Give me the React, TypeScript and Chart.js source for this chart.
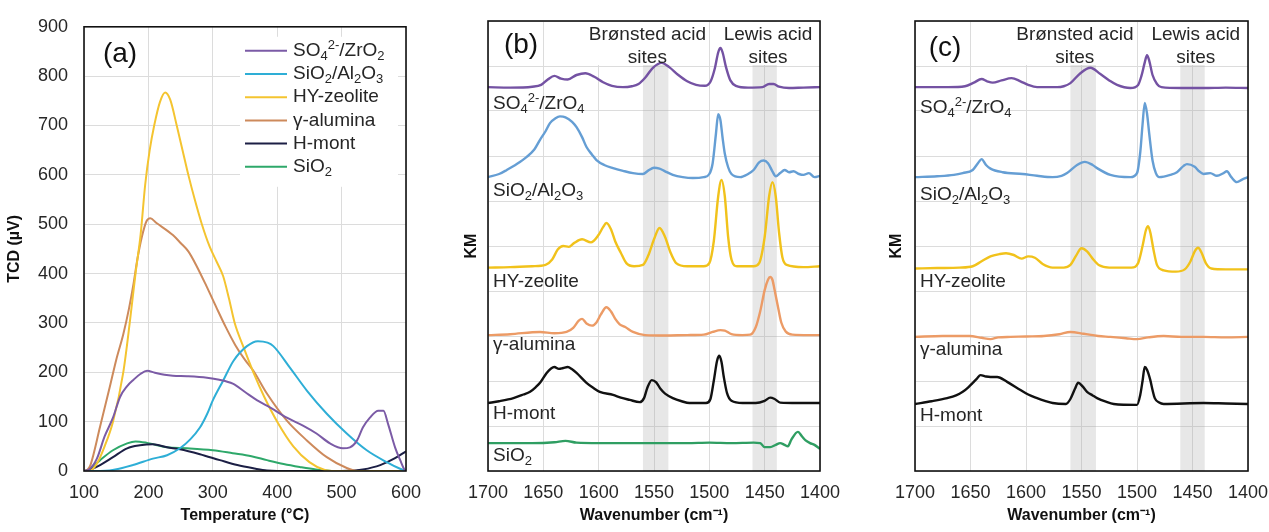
import { useEffect, useRef } from 'react';
import { Chart, registerables } from 'chart.js';

Chart.register(...registerables);

const FONT = "'Liberation Sans', Arial, Helvetica, sans-serif";
Chart.defaults.font.family = FONT;
Chart.defaults.color = '#262626';

type Pt = [number, number];
type Seg = { t: string; s?: 'sub' | 'sup' };

// ---------------- Panel (a): TPD, Temperature (°C) vs TCD (µV) ----------------
const aSO4: Pt[] = [[100,0],[108,3],[120,25],[132,70],[145,108],[156,150],[167,172],[177,185],[188,197],[198,203],[210,199],[225,195],[238,193],[260,192],[291,189],[310,185],[331,177],[350,160],[369,143],[390,128],[415,108],[440,92],[461,76],[482,56],[502,46],[513,48],[524,62],[533,88],[544,108],[557,122],[565,122],[572,96],[583,48],[591,22],[598,2],[600,0]];
const aSiAl: Pt[] = [[100,0],[125,0],[140,1],[176,12],[207,25],[229,32],[249,46],[265,64],[280,88],[291,115],[300,143],[316,183],[332,223],[353,253],[370,263],[385,260],[394,253],[420,209],[446,163],[477,116],[508,76],[539,42],[570,18],[590,5],[600,0]];
const aHY: Pt[] = [[100,0],[108,0],[120,15],[132,50],[145,100],[161,200],[171,300],[180,400],[188,480],[195,580],[202,650],[209,700],[218,748],[226,767],[234,752],[244,700],[253,650],[262,600],[272,550],[283,500],[295,455],[306,424],[316,395],[325,350],[334,300],[348,250],[363,200],[380,150],[400,100],[425,50],[450,18],[474,2],[490,0],[600,0]];
const aAlu: Pt[] = [[100,0],[105,2],[110,12],[125,90],[140,170],[150,225],[161,277],[170,330],[177,380],[183,430],[190,475],[197,506],[203,512],[212,503],[238,478],[250,462],[262,445],[275,415],[290,375],[305,333],[320,292],[335,255],[350,225],[363,203],[384,157],[415,102],[446,62],[477,28],[508,6],[525,0],[600,0]];
const aHm: Pt[] = [[100,0],[108,2],[125,12],[145,28],[167,46],[187,52],[207,54],[229,48],[249,44],[280,34],[311,22],[338,12],[365,5],[384,1],[400,0],[500,0],[520,1],[533,3],[560,12],[583,26],[600,40]];
const aSiO2: Pt[] = [[100,0],[108,3],[125,22],[145,42],[167,56],[180,60],[198,57],[229,48],[260,46],[300,42],[331,36],[360,30],[384,22],[410,14],[435,8],[460,3],[490,0],[600,0]];

// ---------------- Panel (b): IR spectra, Wavenumber vs KM (offset) ----------------
const bSO4: Pt[] = [[1700,8.53],[1680,8.52],[1660,8.54],[1652,8.58],[1646,8.7],[1640,8.78],[1634,8.72],[1628,8.7],[1620,8.8],[1612,8.84],[1604,8.76],[1596,8.64],[1588,8.56],[1578,8.53],[1570,8.55],[1564,8.6],[1558,8.74],[1551,8.96],[1543,9.07],[1536,8.97],[1528,8.8],[1520,8.66],[1512,8.58],[1504,8.56],[1499,8.65],[1495,8.95],[1492,9.3],[1490,9.4],[1488,9.3],[1485,8.98],[1481,8.68],[1476,8.56],[1465,8.52],[1452,8.53],[1446,8.6],[1442,8.6],[1437,8.54],[1428,8.51],[1415,8.52],[1400,8.53]];
const bSiAl: Pt[] = [[1700,6.53],[1690,6.6],[1683,6.69],[1674,6.82],[1665,6.98],[1658,7.15],[1653,7.36],[1648,7.55],[1644,7.73],[1639,7.84],[1635,7.88],[1630,7.86],[1624,7.76],[1620,7.64],[1615,7.42],[1611,7.2],[1606,7.03],[1602,6.91],[1595,6.8],[1587,6.73],[1578,6.67],[1569,6.62],[1560,6.6],[1555,6.68],[1550,6.74],[1545,6.72],[1540,6.66],[1533,6.58],[1524,6.53],[1515,6.51],[1505,6.53],[1500,6.6],[1497,6.84],[1494,7.5],[1492,7.93],[1490,7.8],[1488,7.4],[1486,7.05],[1483,6.75],[1480,6.6],[1472,6.53],[1465,6.6],[1460,6.69],[1455,6.86],[1451,6.9],[1447,6.84],[1443,6.66],[1440,6.55],[1436,6.62],[1432,6.69],[1428,6.64],[1424,6.66],[1419,6.6],[1415,6.58],[1410,6.62],[1405,6.53],[1400,6.56]];
const bHY: Pt[] = [[1700,4.52],[1680,4.53],[1660,4.55],[1648,4.58],[1642,4.7],[1637,4.92],[1632,5.0],[1627,4.98],[1622,5.07],[1615,5.15],[1607,5.08],[1600,5.25],[1596,5.42],[1593,5.51],[1589,5.38],[1585,5.1],[1580,4.85],[1575,4.62],[1568,4.55],[1560,4.58],[1555,4.8],[1550,5.15],[1545,5.4],[1540,5.2],[1535,4.85],[1530,4.62],[1520,4.55],[1505,4.55],[1500,4.62],[1496,5.1],[1492,6.1],[1489,6.47],[1486,6.1],[1483,5.2],[1480,4.7],[1475,4.55],[1460,4.55],[1455,4.62],[1450,5.2],[1446,6.1],[1443,6.42],[1440,6.1],[1437,5.3],[1434,4.75],[1430,4.58],[1415,4.53],[1400,4.55]];
const bAlu: Pt[] = [[1700,3.02],[1680,3.04],[1653,3.09],[1640,3.06],[1629,3.09],[1623,3.18],[1618,3.34],[1615,3.38],[1611,3.28],[1606,3.23],[1602,3.3],[1598,3.48],[1593,3.64],[1589,3.55],[1585,3.38],[1581,3.26],[1576,3.2],[1569,3.09],[1558,3.02],[1540,3.01],[1520,3.02],[1505,3.03],[1497,3.09],[1490,3.13],[1486,3.12],[1480,3.04],[1470,3.02],[1463,3.03],[1458,3.2],[1454,3.55],[1450,4.02],[1447,4.25],[1445,4.31],[1443,4.25],[1441,4.02],[1438,3.65],[1435,3.3],[1431,3.1],[1425,3.03],[1410,3.02],[1400,3.02]];
const bHm: Pt[] = [[1700,1.51],[1690,1.55],[1677,1.62],[1668,1.7],[1662,1.76],[1657,1.86],[1653,1.96],[1647,2.18],[1643,2.28],[1640,2.31],[1636,2.27],[1632,2.29],[1628,2.31],[1624,2.26],[1620,2.18],[1611,1.96],[1605,1.85],[1599,1.76],[1587,1.69],[1580,1.63],[1572,1.58],[1563,1.53],[1559,1.62],[1556,1.85],[1552,2.02],[1548,1.97],[1544,1.82],[1540,1.72],[1533,1.62],[1525,1.55],[1518,1.51],[1503,1.51],[1499,1.6],[1496,2.0],[1493,2.45],[1491,2.56],[1489,2.42],[1487,2.1],[1484,1.73],[1480,1.56],[1470,1.51],[1458,1.51],[1450,1.56],[1445,1.63],[1441,1.6],[1436,1.52],[1420,1.51],[1400,1.51]];
const bSiO2: Pt[] = [[1700,0.62],[1660,0.62],[1640,0.64],[1630,0.67],[1620,0.63],[1600,0.62],[1560,0.62],[1520,0.62],[1500,0.63],[1480,0.62],[1460,0.63],[1454,0.62],[1450,0.53],[1445,0.53],[1440,0.58],[1436,0.62],[1432,0.58],[1429,0.55],[1426,0.69],[1420,0.87],[1416,0.76],[1413,0.68],[1409,0.62],[1405,0.58],[1400,0.49]];

// ---------------- Panel (c) ----------------
const cSO4: Pt[] = [[1700,8.53],[1670,8.53],[1655,8.55],[1647,8.63],[1640,8.71],[1635,8.66],[1630,8.63],[1622,8.68],[1613,8.73],[1605,8.66],[1598,8.58],[1590,8.53],[1572,8.53],[1566,8.55],[1560,8.62],[1551,8.84],[1542,8.96],[1533,8.82],[1525,8.68],[1518,8.58],[1506,8.51],[1499,8.58],[1496,8.78],[1493,9.08],[1491,9.24],[1489,9.12],[1486,8.8],[1482,8.6],[1478,8.53],[1460,8.51],[1440,8.51],[1420,8.52],[1400,8.51]];
const cSiAl: Pt[] = [[1700,6.53],[1680,6.55],[1665,6.58],[1657,6.62],[1648,6.69],[1643,6.85],[1640,6.93],[1636,6.8],[1632,6.72],[1621,6.64],[1603,6.6],[1590,6.56],[1576,6.53],[1568,6.56],[1563,6.62],[1554,6.8],[1547,6.87],[1540,6.8],[1536,6.73],[1524,6.58],[1506,6.53],[1500,6.62],[1497,7.1],[1495,7.7],[1493,8.18],[1491,7.95],[1489,7.5],[1486,6.9],[1483,6.62],[1480,6.53],[1470,6.58],[1464,6.64],[1458,6.78],[1455,6.82],[1448,6.76],[1444,6.66],[1440,6.6],[1434,6.62],[1428,6.56],[1422,6.62],[1419,6.66],[1415,6.53],[1410,6.42],[1405,6.48],[1400,6.53]];
const cHY: Pt[] = [[1700,4.5],[1680,4.51],[1660,4.52],[1648,4.55],[1640,4.66],[1632,4.77],[1624,4.82],[1618,4.84],[1611,4.8],[1604,4.72],[1598,4.77],[1592,4.74],[1585,4.6],[1576,4.52],[1566,4.52],[1560,4.58],[1555,4.78],[1550,4.95],[1545,4.88],[1540,4.72],[1534,4.57],[1525,4.52],[1505,4.52],[1499,4.62],[1495,5.0],[1492,5.35],[1490,5.44],[1488,5.3],[1485,4.9],[1482,4.58],[1476,4.46],[1465,4.43],[1457,4.48],[1452,4.65],[1448,4.88],[1445,4.96],[1442,4.86],[1438,4.62],[1433,4.5],[1420,4.48],[1400,4.48]];
const cAlu: Pt[] = [[1700,2.98],[1675,3.0],[1651,3.0],[1640,2.96],[1632,2.93],[1625,2.97],[1614,2.98],[1600,2.99],[1584,3.0],[1570,3.04],[1560,3.09],[1548,3.05],[1535,3.0],[1524,2.98],[1510,2.95],[1500,2.93],[1490,2.97],[1476,3.0],[1460,2.98],[1440,2.98],[1420,2.97],[1400,2.98]];
const cHm: Pt[] = [[1700,1.49],[1685,1.55],[1671,1.62],[1663,1.68],[1657,1.76],[1652,1.86],[1648,1.96],[1644,2.06],[1641,2.13],[1636,2.1],[1632,2.09],[1626,2.09],[1617,1.98],[1605,1.8],[1598,1.7],[1590,1.62],[1583,1.56],[1576,1.51],[1564,1.49],[1560,1.6],[1556,1.82],[1553,1.96],[1549,1.88],[1545,1.76],[1540,1.68],[1536,1.62],[1528,1.54],[1521,1.49],[1500,1.47],[1497,1.7],[1495,2.0],[1493,2.31],[1491,2.25],[1488,2.02],[1486,1.8],[1484,1.62],[1480,1.52],[1476,1.49],[1440,1.51],[1420,1.5],[1400,1.49]];

// acid-site bands (cm-1)
const bronstedBand: Pt = [1560, 1537];
const lewisBand: Pt = [1461, 1439];

// tick settings
const tempTicks = { min: 100, max: 600, step: 100 };
const tcdTicks = { min: 0, max: 900, step: 100 };
const waveTicks = { min: 1400, max: 1700, step: 50 };

// names
const names = ['SO₄²⁻/ZrO₂', 'SiO₂/Al₂O₃', 'HY-zeolite', 'γ-alumina', 'H-mont', 'SiO₂'];
const segSO4ZrO2: Seg[] = [{ t: 'SO' }, { t: '4', s: 'sub' }, { t: '2-', s: 'sup' }, { t: '/ZrO' }, { t: '2', s: 'sub' }];
const segSO4ZrO4: Seg[] = [{ t: 'SO' }, { t: '4', s: 'sub' }, { t: '2-', s: 'sup' }, { t: '/ZrO' }, { t: '4', s: 'sub' }];
const segSiAl: Seg[] = [{ t: 'SiO' }, { t: '2', s: 'sub' }, { t: '/Al' }, { t: '2', s: 'sub' }, { t: 'O' }, { t: '3', s: 'sub' }];
const segHY: Seg[] = [{ t: 'HY-zeolite' }];
const segAlu: Seg[] = [{ t: 'γ-alumina' }];
const segHm: Seg[] = [{ t: 'H-mont' }];
const segSiO2: Seg[] = [{ t: 'SiO' }, { t: '2', s: 'sub' }];

const colA = ['#7B5BA6', '#2EAED6', '#F4C430', '#CD8A5C', '#1C1F45', '#2EA86A'];
const colB = ['#7452A3', '#659ED4', '#F1C21B', '#EC9B66', '#111111', '#2F9E62'];

const LABEL_SIZE = 19;

function drawRich(ctx: CanvasRenderingContext2D, segs: Seg[], x: number, y: number, size: number, color: string, align: 'left' | 'center' = 'left') {
  ctx.save();
  ctx.fillStyle = color;
  ctx.textBaseline = 'middle';
  ctx.textAlign = 'left';
  const fontOf = (s?: string) => `${s ? Math.round(size * 0.66) : size}px ${FONT}`;
  let w = 0;
  for (const g of segs) { ctx.font = fontOf(g.s); w += ctx.measureText(g.t).width; }
  let cx = align === 'center' ? x - w / 2 : x;
  for (const g of segs) {
    ctx.font = fontOf(g.s);
    const dy = g.s === 'sub' ? size * 0.28 : g.s === 'sup' ? -size * 0.3 : 0;
    ctx.fillText(g.t, cx, y + dy);
    cx += ctx.measureText(g.t).width;
  }
  ctx.restore();
  return w;
}

function lineDs(label: string, pts: Pt[], color: string, width: number) {
  return {
    label,
    data: pts.map(([x, y]) => ({ x, y })),
    borderColor: color,
    backgroundColor: color,
    borderWidth: width,
    pointRadius: 0,
    fill: false,
    cubicInterpolationMode: 'monotone' as const,
  };
}

const framePlugin = {
  id: 'frame',
  afterDatasetsDraw(chart: any) {
    const { ctx, chartArea: { left, top, right, bottom } } = chart;
    ctx.save();
    ctx.strokeStyle = '#111';
    ctx.lineWidth = 1.6;
    ctx.strokeRect(left, top, right - left, bottom - top);
    ctx.restore();
  },
};

function letterPlugin(text: string, dx: number, dy: number) {
  return {
    id: 'letter',
    afterDatasetsDraw(chart: any) {
      const { ctx, chartArea } = chart;
      ctx.save();
      ctx.font = `28px ${FONT}`;
      ctx.fillStyle = '#111';
      ctx.textAlign = 'center';
      ctx.textBaseline = 'middle';
      ctx.fillText(text, chartArea.left + dx, chartArea.top + dy);
      ctx.restore();
    },
  };
}

const gridColor = '#dcdcdc';
const tickFont = { size: 18 };
const titleFont = { size: 16, weight: 'bold' as const };
const plainTick = (v: any) => String(v);

const legendSegsA = [segSO4ZrO2, segSiAl, segHY, segAlu, segHm, segSiO2];

const legendA = {
  id: 'legendA',
  beforeDatasetsDraw(chart: any) {
    const { ctx, chartArea } = chart;
    ctx.save();
    ctx.fillStyle = '#fff';
    ctx.fillRect(chartArea.right - 166, chartArea.top + 10, 158, 150);
    ctx.restore();
  },
  afterDatasetsDraw(chart: any) {
    const { ctx, chartArea } = chart;
    const x0 = chartArea.right - 161, x1 = chartArea.right - 119, tx = chartArea.right - 113;
    legendSegsA.forEach((segs, i) => {
      const y = chartArea.top + 24 + i * 23.2;
      ctx.save();
      ctx.strokeStyle = colA[i];
      ctx.lineWidth = 2;
      ctx.beginPath();
      ctx.moveTo(x0, y);
      ctx.lineTo(x1, y);
      ctx.stroke();
      ctx.restore();
      drawRich(ctx, segs, tx, y, LABEL_SIZE, '#262626');
    });
  },
};

function makeA() {
  const series = [aSO4, aSiAl, aHY, aAlu, aHm, aSiO2];
  return {
    type: 'line' as const,
    data: { datasets: series.map((s, i) => lineDs(names[i], s, colA[i], 2)) },
    options: {
      responsive: false,
      animation: false as const,
      events: [],
      layout: { padding: { top: 23, right: 44, bottom: 0, left: 0 } },
      plugins: { legend: { display: false }, tooltip: { enabled: false } },
      scales: {
        x: {
          type: 'linear' as const, min: tempTicks.min, max: tempTicks.max,
          afterFit: (s: any) => { s.height = 61; },
          ticks: { stepSize: tempTicks.step, padding: 11, font: tickFont, color: '#262626', maxRotation: 0, callback: plainTick },
          grid: { color: gridColor, drawTicks: false },
          border: { display: false },
          title: { display: true, text: 'Temperature (°C)', font: titleFont, color: '#111', padding: { top: 0, bottom: 7 } },
        },
        y: {
          type: 'linear' as const, min: tcdTicks.min, max: tcdTicks.max,
          afterFit: (s: any) => { s.width = 84; },
          ticks: { stepSize: tcdTicks.step, padding: 16, font: tickFont, color: '#262626', callback: plainTick },
          grid: { color: gridColor, drawTicks: false },
          border: { display: false },
          title: { display: true, text: 'TCD (µV)', font: titleFont, color: '#111', padding: { top: 5, bottom: 0 } },
        },
      },
    },
    plugins: [legendA, framePlugin, letterPlugin('(a)', 36, 27)],
  };
}

type SpecLabel = { segs: Seg[]; y: number };

function spectraPlugin(labels: SpecLabel[], bronstedX: number, lewisX: number) {
  const headers = [
    { x: bronstedX, lines: ['Brønsted acid', 'sites'] },
    { x: lewisX, lines: ['Lewis acid', 'sites'] },
  ];
  return {
    id: 'spectra',
    beforeDatasetsDraw(chart: any) {
      const { ctx, chartArea, scales } = chart;
      const xs = scales.x;
      ctx.save();
      ctx.fillStyle = 'rgba(170,170,170,0.28)';
      for (const band of [bronstedBand, lewisBand]) {
        const p1 = xs.getPixelForValue(band[0]);
        const p2 = xs.getPixelForValue(band[1]);
        ctx.fillRect(Math.min(p1, p2), chartArea.top, Math.abs(p2 - p1), chartArea.bottom - chartArea.top);
      }
      ctx.font = `${LABEL_SIZE}px ${FONT}`;
      ctx.fillStyle = '#fff';
      for (const h of headers) {
        const cx = xs.getPixelForValue(h.x);
        const w = Math.max(...h.lines.map((ln) => ctx.measureText(ln).width));
        ctx.fillRect(cx - w / 2 - 2, chartArea.top + 1, w + 4, 43);
      }
      ctx.restore();
    },
    afterDatasetsDraw(chart: any) {
      const { ctx, chartArea, scales } = chart;
      const xs = scales.x, ys = scales.y;
      ctx.save();
      ctx.font = `${LABEL_SIZE}px ${FONT}`;
      ctx.fillStyle = '#262626';
      ctx.textAlign = 'center';
      ctx.textBaseline = 'middle';
      for (const h of headers) {
        const cx = xs.getPixelForValue(h.x);
        h.lines.forEach((ln, i) => ctx.fillText(ln, cx, chartArea.top + 14 + i * 23));
      }
      ctx.restore();
      for (const l of labels) {
        drawRich(ctx, l.segs, chartArea.left + 5, ys.getPixelForValue(l.y), LABEL_SIZE, '#262626');
      }
    },
  };
}

function makeSpectra(series: Pt[][], colors: string[], labels: SpecLabel[], letter: string, letterPos: Pt, yAxisWidth: number, rightPad: number, kmPad: number) {
  return {
    type: 'line' as const,
    data: { datasets: series.map((s, i) => lineDs(names[i], s, colors[i], 2.4)) },
    options: {
      responsive: false,
      animation: false as const,
      events: [],
      layout: { padding: { top: 21, right: rightPad, bottom: 0, left: 0 } },
      plugins: { legend: { display: false }, tooltip: { enabled: false } },
      scales: {
        x: {
          type: 'linear' as const, min: waveTicks.min, max: waveTicks.max, reverse: true,
          afterFit: (s: any) => { s.height = 61; },
          ticks: { stepSize: waveTicks.step, padding: 11, font: tickFont, color: '#262626', maxRotation: 0, callback: plainTick },
          grid: { color: gridColor, drawTicks: false },
          border: { display: false },
          title: { display: true, text: 'Wavenumber (cm⁻¹)', font: titleFont, color: '#111', padding: { top: 0, bottom: 7 } },
        },
        y: {
          type: 'linear' as const, min: 0, max: 10,
          afterFit: (s: any) => { s.width = yAxisWidth; },
          ticks: { stepSize: 1, display: false },
          grid: { color: gridColor, drawTicks: false },
          border: { display: false },
          title: { display: true, text: 'KM', font: titleFont, color: '#111', padding: { top: kmPad, bottom: 0 } },
        },
      },
    },
    plugins: [spectraPlugin(labels, 1556, 1447), framePlugin, letterPlugin(letter, letterPos[0], letterPos[1])],
  };
}

function makeB() {
  return makeSpectra(
    [bSO4, bSiAl, bHY, bAlu, bHm, bSiO2],
    colB,
    [
      { segs: segSO4ZrO4, y: 8.15 },
      { segs: segSiAl, y: 6.22 },
      { segs: segHY, y: 4.2 },
      { segs: segAlu, y: 2.8 },
      { segs: segHm, y: 1.27 },
      { segs: segSiO2, y: 0.33 },
    ],
    '(b)', [33, 24], 58, 40, 32,
  );
}

function makeC() {
  return makeSpectra(
    [cSO4, cSiAl, cHY, cAlu, cHm],
    colB,
    [
      { segs: segSO4ZrO4, y: 8.07 },
      { segs: segSiAl, y: 6.13 },
      { segs: segHY, y: 4.2 },
      { segs: segAlu, y: 2.7 },
      { segs: segHm, y: 1.22 },
    ],
    '(c)', [30, 27], 55, 52, 27,
  );
}

function ChartCanvas({ left, width, make }: { left: number; width: number; make: () => any }) {
  const ref = useRef<HTMLCanvasElement>(null);
  useEffect(() => {
    const chart = new Chart(ref.current as HTMLCanvasElement, make());
    return () => chart.destroy();
  }, []);
  return (
    <canvas
      ref={ref}
      width={width}
      height={532}
      style={{ position: 'absolute', left, top: 0, width, height: 532 }}
    />
  );
}

export default function App() {
  return (
    <div style={{ position: 'fixed', left: 0, top: 0, width: 1269, height: 532, background: '#fff', overflow: 'hidden' }}>
      <ChartCanvas left={0} width={450} make={makeA} />
      <ChartCanvas left={430} width={430} make={makeB} />
      <ChartCanvas left={860} width={440} make={makeC} />
    </div>
  );
}
